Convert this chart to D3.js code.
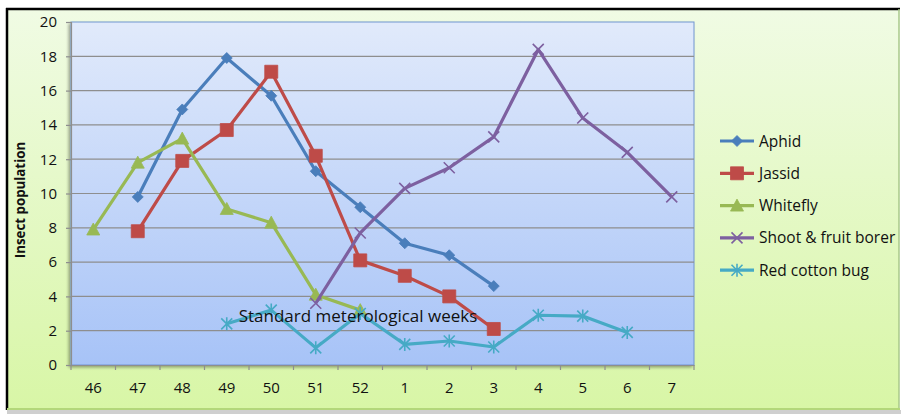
<!DOCTYPE html>
<html>
<head>
<meta charset="utf-8">
<script src="https://cdn.jsdelivr.net/npm/d3@7"></script>
<style>
  html, body { margin: 0; padding: 0; background: #ffffff; }
  svg { display: block; }
  text { font-family: "Open Sans", Lato, "DejaVu Sans", sans-serif; fill: #111; }
</style>
</head>
<body>
<svg id="chart" width="901" height="414"></svg>
<script>
// Standard meteorological weeks (46 .. 52 then 1 .. 7)
const weeks = ["46","47","48","49","50","51","52","1","2","3","4","5","6","7"];
const yTicks = [0,2,4,6,8,10,12,14,16,18,20];

// Insect counts per week (null = not recorded)
const aphid     = [null, 9.8, 14.9, 17.9, 15.7, 11.3, 9.2, 7.1, 6.4, 4.6, null, null, null, null];
const jassid    = [null, 7.8, 11.9, 13.7, 17.1, 12.2, 6.1, 5.2, 4.0, 2.1, null, null, null, null];
const whitefly  = [7.9, 11.8, 13.2, 9.1, 8.3, 4.1, 3.2, null, null, null, null, null, null, null];
const borer     = [null, null, null, null, null, 3.6, 7.7, 10.3, 11.5, 13.3, 18.4, 14.4, 12.4, 9.8];
const cottonBug = [null, null, null, 2.4, 3.2, 1.0, 3.0, 1.2, 1.4, 1.05, 2.9, 2.85, 1.9, null];

const seriesNames = ["Aphid","Jassid","Whitefly","Shoot & fruit borer","Red cotton bug"];
const seriesColors = ["#4a7ebb","#be4b48","#98b954","#7d60a0","#46aac5"];
const seriesMarkers = ["diamond","square","triangle","cross","star"];

const series = [aphid, jassid, whitefly, borer, cottonBug].map((vals, i) => ({
  name: seriesNames[i], color: seriesColors[i], marker: seriesMarkers[i],
  points: vals.map((v, j) => ({ week: weeks[j], value: v })).filter(p => p.value !== null)
}));

const svg = d3.select("#chart");
const defs = svg.append("defs");

// chart-area background (pale green)
const bgGrad = defs.append("linearGradient").attr("id","bgGrad").attr("x1",0).attr("y1",0).attr("x2",0).attr("y2",1);
bgGrad.append("stop").attr("offset","0%").attr("stop-color","#f0fbe4");
bgGrad.append("stop").attr("offset","100%").attr("stop-color","#d8f6a6");

// plot-area background (pale blue)
const plotGrad = defs.append("linearGradient").attr("id","plotGrad").attr("x1",0).attr("y1",0).attr("x2",0).attr("y2",1);
plotGrad.append("stop").attr("offset","0%").attr("stop-color","#e1eafb");
plotGrad.append("stop").attr("offset","100%").attr("stop-color","#a7c3f7");

const shadow = defs.append("filter").attr("id","shadow").attr("x","-5%").attr("y","-5%").attr("width","110%").attr("height","110%");
shadow.append("feGaussianBlur").attr("in","SourceAlpha").attr("stdDeviation",1.5);
shadow.append("feOffset").attr("dx",-2).attr("dy",2).attr("result","ob");
shadow.append("feComponentTransfer").append("feFuncA").attr("type","linear").attr("slope",0.35);
const fm = shadow.append("feMerge");
fm.append("feMergeNode");
fm.append("feMergeNode").attr("in","SourceGraphic");

// outer frame
svg.append("rect").attr("x",7).attr("y",9).attr("width",892).attr("height",400)
  .attr("fill","url(#bgGrad)").attr("stroke","none");
svg.append("line").attr("x1",7).attr("x2",7).attr("y1",8).attr("y2",410).attr("stroke","#000").attr("stroke-width",2.5);
svg.append("line").attr("x1",6).attr("x2",900).attr("y1",9).attr("y2",9).attr("stroke","#000").attr("stroke-width",2.5);
svg.append("line").attr("x1",899).attr("x2",899).attr("y1",9).attr("y2",410).attr("stroke","#a9c98a").attr("stroke-width",1.5);
svg.append("line").attr("x1",7).attr("x2",900).attr("y1",409).attr("y2",409).attr("stroke","#b3d77a").attr("stroke-width",2);
svg.append("rect").attr("x",7).attr("y",410).attr("width",894).attr("height",4).attr("fill","#cfcfcf");

const plot = { left: 71, top: 22, right: 694, bottom: 365 };

const x = d3.scaleBand().domain(weeks).range([plot.left, plot.right]).paddingInner(0).paddingOuter(0);
const y = d3.scaleLinear().domain([0, 20]).range([plot.bottom, plot.top]);

// plot area
svg.append("rect").attr("x",plot.left).attr("y",plot.top)
  .attr("width",plot.right-plot.left).attr("height",plot.bottom-plot.top)
  .attr("fill","url(#plotGrad)").attr("stroke","#7095d0").attr("stroke-width",1)
  .attr("filter","url(#shadow)");

// horizontal gridlines
svg.append("g").selectAll("line").data(yTicks.filter(t => t > 0 && t < 20)).join("line")
  .attr("x1",plot.left).attr("x2",plot.right)
  .attr("y1",d => y(d)).attr("y2",d => y(d))
  .attr("stroke","#8e8e8e").attr("stroke-width",1.2);

// y axis
const yAxis = svg.append("g").attr("transform",`translate(${plot.left},0)`)
  .call(d3.axisLeft(y).tickValues(yTicks).tickSize(5).tickPadding(9));
yAxis.select(".domain").attr("stroke","#8e8e8e").attr("stroke-width",1.2);
yAxis.selectAll(".tick line").attr("stroke","#8e8e8e").attr("stroke-width",1.2);
yAxis.selectAll("text").attr("font-size",15).attr("fill","#111").attr("font-family","'Open Sans', Lato, sans-serif");

// x axis: ticks at category boundaries
const xAxis = svg.append("g").attr("transform",`translate(0,${plot.bottom})`)
  .call(d3.axisBottom(x).tickSize(0).tickPadding(17));
xAxis.select(".domain").attr("stroke","#8e8e8e").attr("stroke-width",1.2);
xAxis.selectAll("text").attr("font-size",15).attr("fill","#111").attr("font-family","'Open Sans', Lato, sans-serif");
svg.append("g").selectAll("line").data(weeks.concat(["end"])).join("line")
  .attr("x1",(d,i) => plot.left + i * x.bandwidth()).attr("x2",(d,i) => plot.left + i * x.bandwidth())
  .attr("y1",plot.bottom).attr("y2",plot.bottom + 5)
  .attr("stroke","#8e8e8e").attr("stroke-width",1.2);

// y-axis title
svg.append("text")
  .attr("transform",`translate(25,200) rotate(-90)`)
  .attr("text-anchor","middle").attr("font-size",13.3).attr("font-weight","bold")
  .text("Insect population");

// marker shapes
function markerPath(type, s) {
  const h = s / 2;
  switch (type) {
    case "diamond": return `M0,${-h}L${h},0L0,${h}L${-h},0Z`;
    case "square": return `M${-h},${-h}H${h}V${h}H${-h}Z`;
    case "triangle": return `M0,${-h-1}L${h+1},${h}H${-h-1}Z`;
    case "cross": return `M${-h},${-h}L${h},${h}M${-h},${h}L${h},${-h}`;
    case "star": return `M${-h},${-h}L${h},${h}M${-h},${h}L${h},${-h}M0,${-h-1}V${h+1}`;
  }
}
const markerSize = { diamond: 11, square: 13, triangle: 11, cross: 11, star: 11 };
function drawMarker(g, type, color) {
  const filled = type !== "cross" && type !== "star";
  g.append("path").attr("d", markerPath(type, markerSize[type]))
    .attr("fill", filled ? color : "none")
    .attr("stroke", color)
    .attr("stroke-width", filled ? 0.8 : 1.6);
}

const line = d3.line().x(d => x(d.week) + x.bandwidth()/2).y(d => y(d.value));

const seriesG = svg.append("g");
series.forEach(s => {
  const g = seriesG.append("g");
  g.append("path").datum(s.points).attr("d", line)
    .attr("fill","none").attr("stroke", s.color).attr("stroke-width", 3.2)
    .attr("stroke-linejoin","round");
  s.points.forEach(p => {
    const mg = g.append("g").attr("transform",`translate(${x(p.week)+x.bandwidth()/2},${y(p.value)})`);
    drawMarker(mg, s.marker, s.color);
  });
});

// x-axis title, placed inside the plot
svg.append("text").attr("x",358).attr("y",322).attr("text-anchor","middle")
  .attr("font-size",17).text("Standard meterological  weeks");

// legend
const legend = svg.append("g");
series.forEach((s, i) => {
  const ly = 141 + i * 32.3;
  const lg = legend.append("g");
  lg.append("line").attr("x1",720).attr("x2",754).attr("y1",ly).attr("y2",ly)
    .attr("stroke", s.color).attr("stroke-width",3.2);
  const mg = lg.append("g").attr("transform",`translate(737,${ly})`);
  drawMarker(mg, s.marker, s.color);
  lg.append("text").attr("x",759).attr("y",ly).attr("dy","0.36em")
    .attr("font-size",15.5).text(s.name);
});
</script>
</body>
</html>
